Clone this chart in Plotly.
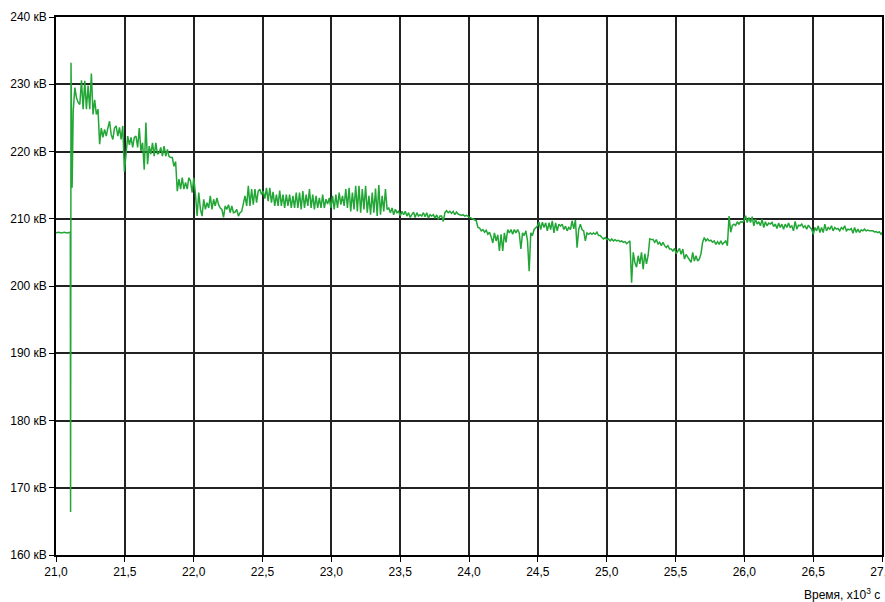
import numpy as np
import plotly.graph_objects as go

# Start-up section (idle level, then the switching transient), time in x10^3 s
lead_time = [21.0, 21.02, 21.04, 21.06, 21.08, 21.1, 21.104, 21.106, 21.109, 21.117]
lead_kv = [207.9, 208.0, 207.9, 208.0, 207.9, 208.0, 208.0, 166.4, 233.2, 214.6]

# Regular record after the transient: first sample time and sampling step
rec_start = 21.125
rec_step = 0.012
rec_kv = [
    226.0, 229.5, 228.0, 227.3, 227.0, 230.6, 226.3, 230.5, 226.3, 229.8,
    226.3, 231.6, 225.5, 227.7, 225.5, 226.3, 221.1, 223.5, 222.1, 223.3,
    222.3, 223.5, 224.5, 222.5, 221.8, 223.5, 223.8, 222.3, 223.6, 221.8,
    223.8, 217.0, 220.0, 222.3, 221.0, 222.1, 220.6, 222.1, 222.3, 220.6,
    223.5, 220.1, 221.3, 217.3, 224.3, 218.1, 220.8, 219.6, 221.3, 219.3,
    221.3, 219.6, 219.8, 220.6, 219.3, 220.8, 219.3, 220.3, 219.3, 219.1,
    219.1, 217.8, 218.5, 214.1, 215.9, 214.4, 216.1, 214.4, 215.4, 214.4,
    216.1, 215.6, 213.9, 216.1, 213.6, 210.4, 213.9, 211.4, 210.4, 212.9,
    211.4, 212.4, 211.6, 213.4, 211.4, 212.9, 211.9, 213.1, 212.1, 211.6,
    211.4, 210.2, 211.9, 211.4, 212.1, 210.9, 211.9, 210.9, 211.0, 211.4,
    210.4, 210.9, 211.1, 212.4, 213.4, 211.9, 214.9, 211.9, 214.4, 212.1,
    214.4, 212.4, 214.1, 214.4, 213.6, 214.1, 213.0, 214.6, 212.6, 214.6,
    212.4, 214.0, 211.9, 213.6, 211.9, 214.2, 211.9, 213.6, 211.6, 213.6,
    211.9, 213.6, 211.6, 213.4, 211.6, 213.9, 211.6, 213.9, 211.4, 214.1,
    211.6, 213.6, 211.9, 214.4, 211.6, 213.6, 211.4, 213.4, 211.6, 213.1,
    211.6, 213.6, 211.6, 212.9, 212.2, 213.1, 211.6, 213.4, 211.4, 213.6,
    211.6, 213.9, 212.1, 213.4, 211.9, 214.4, 211.6, 214.6, 211.1, 213.9,
    211.4, 214.9, 211.1, 214.9, 210.9, 214.4, 211.4, 214.9, 210.9, 213.4,
    210.6, 213.9, 210.9, 214.5, 210.4, 215.0, 210.6, 213.4, 211.1, 214.4,
    211.4, 211.6, 210.9, 211.6, 210.6, 211.4, 210.9, 211.1, 210.4, 211.1,
    210.6, 211.1, 210.4, 210.9, 210.2, 210.6, 211.0, 210.2, 210.9, 210.4,
    210.6, 210.4, 210.9, 210.3, 210.9, 210.1, 210.6, 210.4, 210.6, 210.1,
    210.6, 209.9, 210.4, 210.4, 209.6, 210.9, 211.2, 210.9, 211.1, 210.8,
    211.1, 210.6, 211.0, 210.7, 210.6, 210.5, 210.6, 210.4, 210.5, 210.3,
    210.2, 210.1, 210.0, 209.9, 209.7, 208.7, 208.6, 208.2, 208.4, 208.0,
    208.3, 207.7, 208.0, 207.3, 206.4, 207.9, 206.7, 207.6, 205.2, 207.7,
    205.2, 207.9, 206.5, 208.4, 207.9, 208.4, 207.7, 208.4, 207.9, 208.4,
    207.9, 205.5, 207.9, 207.5, 208.2, 206.7, 202.2, 207.9, 207.5, 208.4,
    208.7, 208.9, 209.5, 208.4, 209.5, 208.7, 209.4, 208.2, 209.4, 208.4,
    209.7, 207.9, 209.4, 208.2, 209.2, 208.9, 209.2, 208.4, 208.9, 208.2,
    208.7, 208.4, 209.7, 208.5, 209.8, 205.7, 208.4, 209.2, 208.4, 208.2,
    206.7, 207.9, 207.7, 207.9, 207.7, 207.9, 207.7, 208.0, 207.5, 207.5,
    207.2, 207.0, 207.2, 206.9, 207.0, 206.7, 207.0, 206.7, 206.9, 206.7,
    206.8, 206.6, 206.7, 206.5, 206.6, 206.3, 206.5, 206.7, 200.5, 205.0,
    203.5, 202.8, 204.5, 203.3, 205.0, 202.5, 204.8, 203.3, 204.5, 207.0,
    206.9, 206.9, 206.5, 206.9, 206.2, 206.5, 206.0, 206.5, 206.0, 205.7,
    206.0, 205.5, 205.5, 205.2, 205.6, 204.8, 205.2, 205.6, 204.7, 205.5,
    204.0, 204.7, 204.3, 203.9, 203.5, 205.0, 203.7, 204.5, 203.7, 204.0,
    204.8, 206.5, 207.2, 206.7, 207.0, 206.7, 206.8, 206.5, 206.7, 206.2,
    206.6, 206.2, 206.7, 206.2, 206.5, 206.7, 206.0, 210.4, 208.0, 209.0,
    209.2, 209.0, 209.55, 209.2, 209.55, 209.45, 209.7, 210.45, 209.45, 210.2,
    209.45, 210.3, 208.95, 209.95, 209.2, 209.55, 208.95, 209.95, 208.7, 209.55,
    208.95, 209.35, 209.2, 209.45, 208.85, 209.2, 208.55, 209.35, 208.7, 209.2,
    208.45, 209.2, 208.7, 209.35, 208.7, 208.95, 208.2, 209.6, 208.45, 209.05,
    208.95, 209.2, 208.7, 208.95, 208.45, 209.05, 208.7, 208.45, 207.7, 208.7,
    208.2, 208.95, 207.95, 208.7, 207.95, 209.2, 208.2, 208.7, 208.45, 208.95,
    208.2, 208.7, 208.45, 208.55, 208.2, 208.7, 208.45, 208.95, 208.2, 208.45,
    208.35, 208.55, 207.85, 208.7, 207.95, 208.45, 207.95, 208.35, 208.2, 208.45,
    208.2, 208.3, 208.2, 208.2, 208.2, 208.05, 208.1, 207.95, 208.05, 207.7,
    208.0,
]

# Axis ticks and labels
x_ticks = [21.0, 21.5, 22.0, 22.5, 23.0, 23.5, 24.0, 24.5, 25.0, 25.5, 26.0, 26.5, 27.0]
x_labels = ["21,0", "21,5", "22,0", "22,5", "23,0", "23,5", "24,0",
            "24,5", "25,0", "25,5", "26,0", "26,5", "27,0"]
y_ticks = [160, 170, 180, 190, 200, 210, 220, 230, 240]
y_labels = ["160 кВ", "170 кВ", "180 кВ", "190 кВ", "200 кВ",
            "210 кВ", "220 кВ", "230 кВ", "240 кВ"]
x_title = "Время, x10<sup>3</sup> с"

rec_time = rec_start + rec_step * np.arange(len(rec_kv))
time = list(lead_time) + list(np.round(rec_time, 4))
kv = list(lead_kv) + list(rec_kv)

font_family = "Liberation Sans, Arial, sans-serif"

fig = go.Figure()
fig.add_trace(go.Scatter(
    x=time, y=kv, mode="lines",
    line=dict(color="#22a636", width=1.5),
    hoverinfo="skip", showlegend=False,
))

axis_common = dict(
    showgrid=True, gridcolor="#222222", gridwidth=1.5,
    showline=True, linecolor="#000000", linewidth=1.5, mirror=True,
    ticks="outside", ticklen=5, tickcolor="#000000", tickwidth=1,
    zeroline=False, automargin=False, ticklabeloverflow="allow",
    tickfont=dict(family=font_family, size=12, color="#000000"),
)

fig.update_xaxes(range=[21.0, 27.0], tickvals=x_ticks, ticktext=x_labels, **axis_common)
fig.update_yaxes(range=[160, 240], tickvals=y_ticks, ticktext=y_labels, **axis_common)

fig.add_annotation(
    text=x_title, xref="paper", yref="paper", x=1.0, y=-0.072,
    xanchor="right", yanchor="middle", showarrow=False,
    font=dict(family=font_family, size=12, color="#000000"),
)

fig.update_layout(
    width=885, height=602,
    margin=dict(l=56, r=3, t=17, b=47),
    paper_bgcolor="#ffffff", plot_bgcolor="#ffffff",
    font=dict(family=font_family, size=12, color="#000000"),
)

fig.write_html("out.html")
